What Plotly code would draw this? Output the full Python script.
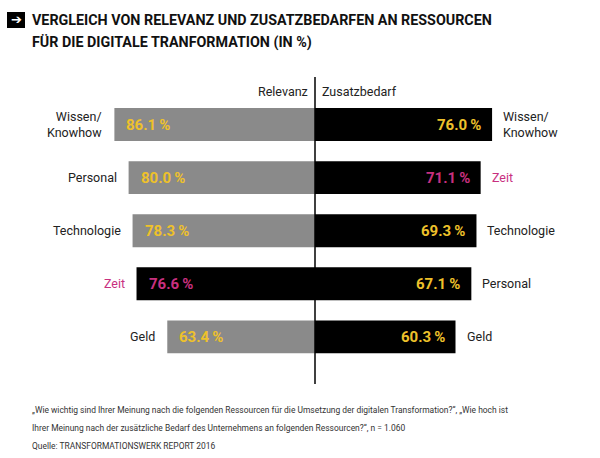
import plotly.graph_objects as go

left_cats = ["Wissen/<br>Knowhow", "Personal", "Technologie", "Zeit", "Geld"]
left_vals = [86.1, 80.0, 78.3, 76.6, 63.4]
right_cats = ["Wissen/<br>Knowhow", "Zeit", "Technologie", "Personal", "Geld"]
right_vals = [76.0, 71.1, 69.3, 67.1, 60.3]
rows = [0, 1, 2, 3, 4]

title_lines = ["VERGLEICH VON RELEVANZ UND ZUSATZBEDARFEN AN RESSOURCEN",
               "FÜR DIE DIGITALE TRANFORMATION (IN %)"]
foot_lines = ["„Wie wichtig sind Ihrer Meinung nach die folgenden Ressourcen für die Umsetzung der digitalen Transformation?“, „Wie hoch ist",
              "Ihrer Meinung nach der zusätzliche Bedarf des Unternehmens an folgenden Ressourcen?“, n = 1.060",
              "Quelle: TRANSFORMATIONSWERK REPORT 2016"]

GRAY = "#8a8a8a"
BLACK = "#000000"
YEL = "#EEC12B"
MAG = "#C8307F"
FONT = "Roboto, sans-serif"

def is_zeit(c):
    return c == "Zeit"

fig = go.Figure()
fig.add_trace(go.Bar(
    y=rows, x=[-v for v in left_vals], base=0, orientation="h", width=0.62,
    marker=dict(color=[BLACK if is_zeit(c) else GRAY for c in left_cats], line=dict(width=0)),
    hoverinfo="skip", showlegend=False))
fig.add_trace(go.Bar(
    y=rows, x=right_vals, base=0, orientation="h", width=0.62,
    marker=dict(color=BLACK, line=dict(width=0)),
    hoverinfo="skip", showlegend=False))

def fmt(v):
    return f"{v:.1f}\u2009%"

ann = []
for r, c, v in zip(rows, left_cats, left_vals):
    col = MAG if is_zeit(c) else YEL
    ann.append(dict(x=-v, y=r, xref="x", yref="y", text=fmt(v), showarrow=False,
                    xanchor="left", xshift=10, font=dict(family=FONT, size=15, color=col, weight="bold")))
    ann.append(dict(x=-v, y=r, xref="x", yref="y", text=c, showarrow=False,
                    xanchor="right", xshift=-10, align="right",
                    font=dict(family=FONT, size=12.5, color=MAG if is_zeit(c) else "#222")))
for r, c, v in zip(rows, right_cats, right_vals):
    col = MAG if is_zeit(c) else YEL
    ann.append(dict(x=v, y=r, xref="x", yref="y", text=fmt(v), showarrow=False,
                    xanchor="right", xshift=-9, font=dict(family=FONT, size=15, color=col, weight="bold")))
    ann.append(dict(x=v, y=r, xref="x", yref="y", text=c, showarrow=False,
                    xanchor="left", xshift=9, align="left",
                    font=dict(family=FONT, size=12.5, color=MAG if is_zeit(c) else "#222")))

# headers
ann.append(dict(x=0, y=-0.63, xref="x", yref="y", text="Relevanz", showarrow=False,
                xanchor="right", xshift=-5, font=dict(family=FONT, size=12.5, color="#222")))
ann.append(dict(x=0, y=-0.63, xref="x", yref="y", text="Zusatzbedarf", showarrow=False,
                xanchor="left", xshift=5, font=dict(family=FONT, size=12.5, color="#222")))

# title
for i, t in enumerate(title_lines):
    ann.append(dict(x=30 / 600, y=1 - (20.5 + 22 * i) / 458, xref="paper", yref="paper",
                    xanchor="left", yanchor="middle", align="left", showarrow=False,
                    text=t, font=dict(family=FONT, size=14.3, color="#111", weight="bold")))
ann.append(dict(x=16 / 600, y=1 - 20 / 458, xref="paper", yref="paper", xanchor="center", yanchor="middle",
                showarrow=False, text="<b>➔</b>", font=dict(family="DejaVu Sans", size=13, color="white")))

# footnote
for i, t in enumerate(foot_lines):
    ann.append(dict(x=30 / 600, y=1 - (410 + 18 * i) / 458, xref="paper", yref="paper",
                    xanchor="left", yanchor="middle", align="left", showarrow=False,
                    text=t, font=dict(family=FONT, size=8.45, color="#333")))

shapes = [
    dict(type="rect", xref="paper", yref="paper", x0=7 / 600, x1=25 / 600, y0=1 - 28 / 458, y1=1 - 12 / 458,
         fillcolor="black", line=dict(width=0), layer="below"),
    dict(type="line", xref="x", yref="paper", x0=0, x1=0, y0=1 - 384 / 458, y1=1 - 77 / 458,
         line=dict(color="black", width=1.5)),
]

fig.update_layout(
    width=600, height=458, margin=dict(l=0, r=0, t=0, b=0),
    paper_bgcolor="white", plot_bgcolor="white",
    barmode="overlay", annotations=ann, shapes=shapes,
    xaxis=dict(range=[-315 / 2.33, 285 / 2.33], visible=False, fixedrange=True),
    yaxis=dict(range=[(458 - 124.5) / 53.1, -124.5 / 53.1], visible=False, fixedrange=True),
)
fig.write_html("out.html")
